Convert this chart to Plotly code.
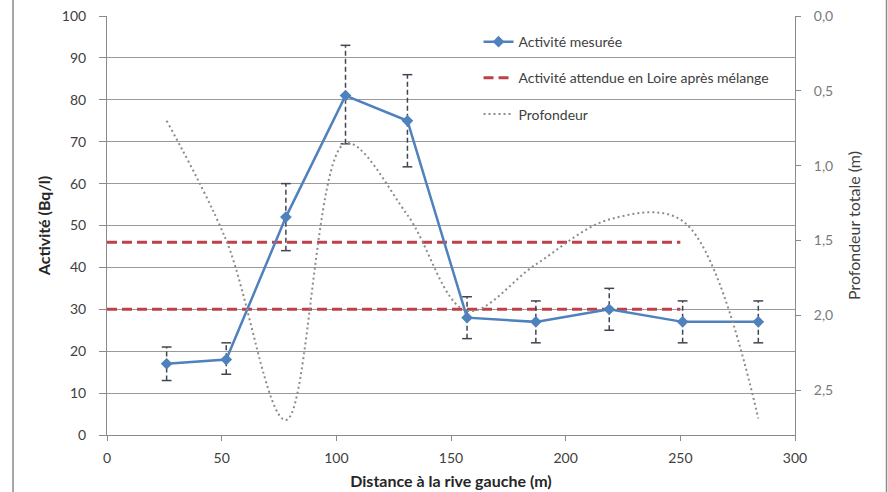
import plotly.graph_objects as go

# ---- data ----
distance = [26, 52, 78, 104, 131, 157, 187, 219, 251, 284]
activite = [17, 18, 52, 81, 75, 28, 27, 30, 27, 27]
err_high = [21, 22, 60, 93, 86, 33, 32, 35, 32, 32]
err_low = [13, 14.5, 44, 69.5, 64, 23, 22, 25, 22, 22]
profondeur = [0.70, 1.50, 2.70, 0.85, 1.33, 1.97, 1.66, 1.36, 1.37, 2.69]
attendue_niveaux = [46, 30]
attendue_x = [0, 250]

x_ticks = [0, 50, 100, 150, 200, 250, 300]
y_ticks = [0, 10, 20, 30, 40, 50, 60, 70, 80, 90, 100]
y2_ticks = [0, 0.5, 1.0, 1.5, 2.0, 2.5]
y2_ticktext = ["0,0", "0,5", "1,0", "1,5", "2,0", "2,5"]

FONT = "Lato, 'Open Sans', sans-serif"
BLUE = "#4F81BD"
RED = "#C0404A"
GREY_DOT = "#8C8C8C"
ERR = "#3F4652"
GRID = "#9A9A9A"

fig = go.Figure()

# expected activity (red dashed)
ex, ey = [], []
for lvl in attendue_niveaux:
    ex += [attendue_x[0], attendue_x[1], None]
    ey += [lvl, lvl, None]
fig.add_trace(go.Scatter(
    x=ex, y=ey, mode="lines", name="Activité attendue en Loire après mélange",
    line=dict(color=RED, width=3, dash="10px,5px"), legendrank=2,
    legendgroup="b"))

# depth (dotted, secondary axis)
fig.add_trace(go.Scatter(
    x=distance, y=profondeur, mode="lines", name="Profondeur", yaxis="y2",
    line=dict(color=GREY_DOT, width=2, dash="2px,3px", shape="spline", smoothing=1.0),
    legendrank=3, legendgroup="c"))

# error bars (dashed) + caps
bx, by = [], []
for xi, lo, hi in zip(distance, err_low, err_high):
    bx += [xi, xi, None]
    by += [lo, hi, None]
fig.add_trace(go.Scatter(
    x=bx, y=by, mode="lines", showlegend=False, hoverinfo="skip",
    legendgroup="e",
    line=dict(color=ERR, width=1.5, dash="5px,3px")))
fig.add_trace(go.Scatter(
    x=distance + distance, y=err_low + err_high, mode="markers", showlegend=False,
    hoverinfo="skip", legendgroup="e",
    marker=dict(symbol="line-ew", size=7, line=dict(color=ERR, width=1.5))))

# measured activity
fig.add_trace(go.Scatter(
    x=distance, y=activite, mode="lines+markers", name="Activité mesurée",
    line=dict(color=BLUE, width=2.5),
    marker=dict(symbol="diamond", size=9, color=BLUE), legendrank=1,
    legendgroup="a"))

fig.update_layout(
    width=888, height=492,
    margin=dict(l=107, r=93, t=16, b=57),
    paper_bgcolor="white", plot_bgcolor="white",
    font=dict(family=FONT, size=14, color="#404040"),
    showlegend=True,
    legend=dict(x=0.54, y=0.976, xanchor="left", yanchor="top",
                bgcolor="rgba(0,0,0,0)", font=dict(size=14, color="#404040"),
                tracegroupgap=15, traceorder="grouped"),
    xaxis=dict(range=[0, 300], tickvals=x_ticks, showgrid=False, zeroline=False,
               showline=True, linecolor="#8A8A8A", linewidth=1, automargin=False,
               ticks="outside", ticklen=5, tickcolor="#8A8A8A",
               ticklabelstandoff=5,
               title=dict(text="<b>Distance à la rive gauche (m)</b>", standoff=11,
                          font=dict(size=16, color="#262626"))),
    yaxis=dict(range=[0, 100], tickvals=y_ticks, showgrid=True, gridcolor=GRID,
               gridwidth=1, zeroline=False, showline=True, linecolor="#8A8A8A",
               automargin=False,
               ticks="outside", ticklen=7, tickcolor="#8A8A8A",
               ticklabelstandoff=10,
               title=dict(text="<b>Activité (Bq/l)</b>", standoff=7,
                          font=dict(size=16, color="#262626"))),
    yaxis2=dict(overlaying="y", side="right", range=[2.8, 0],
                tickvals=y2_ticks, ticktext=y2_ticktext, showgrid=False,
                zeroline=False, showline=True, linecolor="#8A8A8A",
                automargin=False,
                ticks="outside", ticklen=5, tickcolor="#8A8A8A",
                ticklabelstandoff=10, tickfont=dict(color="#7A7A7A"),
                title=dict(text="Profondeur totale (m)", standoff=16,
                           font=dict(size=16, color="#404040"))),
    shapes=[
        dict(type="line", xref="paper", yref="paper", x0=-0.1366, x1=-0.1366,
             y0=-0.2, y1=1.1, line=dict(color="#8A8A8A", width=1.5)),
        dict(type="line", xref="paper", yref="paper", x0=1.1330, x1=1.1330,
             y0=-0.2, y1=1.1, line=dict(color="#8A8A8A", width=1.5)),
    ],
)

fig.write_html("out.html", config={"displayModeBar": False},
               post_script="document.body.style.margin='0px';document.body.style.overflow='hidden';")
